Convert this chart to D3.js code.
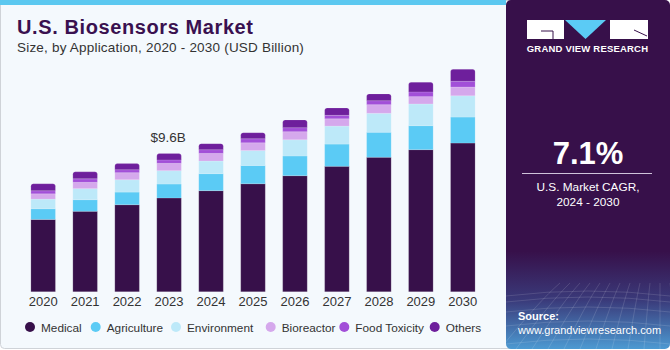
<!DOCTYPE html>
<html>
<head>
<meta charset="utf-8">
<script src="https://cdn.jsdelivr.net/npm/d3@7"></script>
<style>
  body { margin: 0; background: #fff; }
  svg { display: block; font-family: "Liberation Sans", Arial, sans-serif; }
</style>
</head>
<body>
<div id="chart"></div>
<script>
// data, USD billion
var years = ["2020", "2021", "2022", "2023", "2024", "2025", "2026", "2027", "2028", "2029", "2030"]
var segments = ["Medical", "Agriculture", "Environment", "Bioreactor", "Food Toxicity", "Others"]
var medical     = [5.03, 5.59, 6.05, 6.52, 7.03, 7.51, 8.07, 8.72, 9.35, 9.88, 10.34]
var agriculture = [0.74, 0.81, 0.88, 0.97, 1.18, 1.27, 1.37, 1.55, 1.74, 1.67, 1.81]
var environment = [0.67, 0.77, 0.86, 0.93, 0.88, 1.04, 1.13, 1.25, 1.32, 1.51, 1.48]
var bioreactor  = [0.37, 0.44, 0.49, 0.51, 0.53, 0.54, 0.56, 0.51, 0.60, 0.51, 0.61]
var foodTox     = [0.21, 0.24, 0.21, 0.24, 0.26, 0.28, 0.28, 0.24, 0.28, 0.33, 0.40]
var others      = [0.49, 0.49, 0.42, 0.44, 0.42, 0.42, 0.54, 0.51, 0.47, 0.67, 0.83]
var colors = ["#37104a", "#5bcbf5", "#bde9f9", "#d5a8ec", "#a24fd8", "#6e1f9c"]

var width = 670, height = 350

var svg = d3.select("#chart").append("svg")
  .attr("width", width)
  .attr("height", height)

var defs = svg.append("defs")

// left panel
svg.append("rect")
  .attr("x", 0.5).attr("y", 0.5)
  .attr("width", 520).attr("height", 348)
  .attr("rx", 4)
  .style("fill", "#f4f9fd")
  .style("stroke", "#cfd3d8")

svg.append("rect")
  .attr("x", 0).attr("y", 0)
  .attr("width", 506).attr("height", 5)
  .style("fill", "#5bc8f0")

// right panel
var grad = defs.append("linearGradient")
  .attr("id", "panelGrad")
  .attr("x1", 0).attr("y1", 0).attr("x2", 0).attr("y2", 1)
grad.append("stop").attr("offset", "0%").attr("stop-color", "#37104a")
grad.append("stop").attr("offset", "72%").attr("stop-color", "#37104a")
grad.append("stop").attr("offset", "86%").attr("stop-color", "#3a3a7a")
grad.append("stop").attr("offset", "100%").attr("stop-color", "#4c9ad2")

svg.append("rect")
  .attr("x", 506).attr("y", 0)
  .attr("width", 164).attr("height", 349)
  .attr("rx", 5)
  .style("fill", "url(#panelGrad)")

// faint grid at bottom of panel
var gridG = svg.append("g").style("stroke", "#ffffff").style("stroke-opacity", 0.13).style("fill", "none")
d3.range(0, 12).forEach(function(i) {
  gridG.append("path").attr("d", "M" + (500 + i * 16) + ",349 Q" + (540 + i * 12) + ",300 " + (560 + i * 10) + ",283")
})
d3.range(0, 6).forEach(function(i) {
  var y = 290 + i * i * 2 + i * 4
  gridG.append("path").attr("d", "M506," + (y + 6) + " Q588," + (y - 4) + " 670," + (y + 6))
})

// logo
var logo = svg.append("g")
logo.append("rect").attr("x", 527).attr("y", 20).attr("width", 37).attr("height", 19).style("fill", "#fff")
logo.append("path").attr("d", "M541,31 L553,31 L553,39").style("fill", "none").style("stroke", "#37104a").style("stroke-width", 1)
logo.append("path").attr("d", "M565,20 L606,20 L585.5,39 Z").style("fill", "#5bcbf5")
logo.append("rect").attr("x", 610).attr("y", 20).attr("width", 38).attr("height", 19).style("fill", "#fff")
logo.append("path").attr("d", "M634,30 L647,36").style("stroke", "#37104a").style("stroke-width", 1)
logo.append("text")
  .attr("x", 587.5).attr("y", 52)
  .attr("text-anchor", "middle")
  .style("font-size", "9.5px").style("font-weight", "bold")
  .style("letter-spacing", "0.2px")
  .style("fill", "#ffffff")
  .text("GRAND VIEW RESEARCH")

// CAGR
svg.append("text")
  .attr("x", 588).attr("y", 164)
  .attr("text-anchor", "middle")
  .style("font-size", "31px").style("font-weight", "bold")
  .style("fill", "#ffffff")
  .text("7.1%")
svg.append("line")
  .attr("x1", 522).attr("x2", 652).attr("y1", 173.5).attr("y2", 173.5)
  .style("stroke", "#cfc3da").style("stroke-width", 1)
svg.append("text")
  .attr("x", 588).attr("y", 191)
  .attr("text-anchor", "middle")
  .style("font-size", "11.8px").style("fill", "#ffffff")
  .text("U.S. Market CAGR,")
svg.append("text")
  .attr("x", 588).attr("y", 206)
  .attr("text-anchor", "middle")
  .style("font-size", "11.8px").style("fill", "#ffffff")
  .text("2024 - 2030")

svg.append("text")
  .attr("x", 518).attr("y", 320)
  .style("font-size", "11px").style("font-weight", "bold").style("fill", "#ffffff")
  .text("Source:")
svg.append("text")
  .attr("x", 518).attr("y", 334)
  .style("font-size", "11px").style("fill", "#ffffff")
  .text("www.grandviewresearch.com")

// titles
svg.append("text")
  .attr("x", 17).attr("y", 34)
  .style("font-size", "20px").style("font-weight", "bold")
  .style("letter-spacing", "0.6px")
  .style("fill", "#3a1150")
  .text("U.S. Biosensors Market")
svg.append("text")
  .attr("x", 17).attr("y", 52)
  .style("font-size", "13.5px").style("fill", "#333")
  .style("letter-spacing", "0.2px")
  .text("Size, by Application, 2020 - 2030 (USD Billion)")

// stacked bars
var series = [medical, agriculture, environment, bioreactor, foodTox, others]
var rows = years.map(function(y, i) {
  var r = { year: y }
  segments.forEach(function(s, j) { r[s] = series[j][i] })
  return r
})
var stacked = d3.stack().keys(segments)(rows)

var x = d3.scaleBand()
  .domain(years)
  .range([22.5, 483.5])
  .paddingInner(0.415)
  .paddingOuter(0.2)

var y = d3.scaleLinear()
  .domain([0, 16])
  .range([291.7, 61.7])

var barsG = svg.append("g")

stacked.forEach(function(layer, li) {
  barsG.selectAll(".l" + li)
    .data(layer)
    .enter()
    .append("path")
      .attr("d", function(d) {
        var x0 = x(d.data.year), w = x.bandwidth()
        var top = y(d[1]), bot = y(d[0])
        if (li === segments.length - 1) {
          var r = 2.5
          return "M" + x0 + "," + bot + "L" + x0 + "," + (top + r) +
            "Q" + x0 + "," + top + " " + (x0 + r) + "," + top +
            "L" + (x0 + w - r) + "," + top +
            "Q" + (x0 + w) + "," + top + " " + (x0 + w) + "," + (top + r) +
            "L" + (x0 + w) + "," + bot + "Z"
        }
        return "M" + x0 + "," + bot + "L" + x0 + "," + top + "L" + (x0 + w) + "," + top + "L" + (x0 + w) + "," + bot + "Z"
      })
      .style("fill", colors[li])
      .style("stroke", "#ffffff")
      .style("stroke-opacity", 0.25)
      .style("stroke-width", 0.6)
})

// year labels
svg.append("g").selectAll("text")
  .data(years)
  .enter()
  .append("text")
    .attr("x", function(d) { return x(d) + x.bandwidth() / 2 })
    .attr("y", 306)
    .attr("text-anchor", "middle")
    .style("font-size", "13px")
    .style("fill", "#333")
    .text(function(d) { return d })

// annotation
var total2023 = d3.sum(series, function(s) { return s[3] })
svg.append("text")
  .attr("x", x("2023") + x.bandwidth() / 2 - 1)
  .attr("y", y(total2023) - 12)
  .attr("text-anchor", "middle")
  .style("font-size", "13.5px")
  .style("fill", "#333")
  .text("$" + total2023.toFixed(1) + "B")

// legend
var legendX = [30, 95.7, 176, 270.7, 344.3, 434.7]
var legend = svg.append("g").selectAll("g")
  .data(segments)
  .enter()
  .append("g")
    .attr("transform", function(d, i) { return "translate(" + legendX[i] + ",327)" })
legend.append("circle")
  .attr("r", 5)
  .style("fill", function(d, i) { return colors[i] })
legend.append("text")
  .attr("x", 11)
  .attr("y", 4.5)
  .style("font-size", "11.8px")
  .style("fill", "#333")
  .text(function(d) { return d })
</script>
</body>
</html>
